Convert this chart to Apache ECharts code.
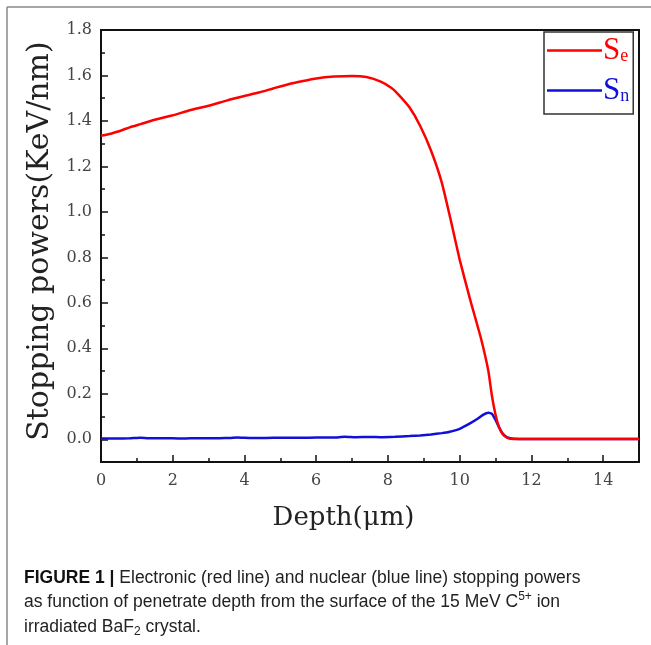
<!DOCTYPE html>
<html>
<head>
<meta charset="utf-8">
<script src="https://cdn.jsdelivr.net/npm/echarts@6/dist/echarts.min.js"></script>
<style>
  html, body { margin: 0; padding: 0; background: #fff; }
  #chart { width: 651px; height: 645px; }
</style>
</head>
<body>
<div id="chart"></div>
<script>
// electronic stopping power (red)
var depthSe = [0, 0.3, 0.6, 0.8, 1.1, 1.5, 2.0, 2.5, 3.0, 3.4, 3.6, 4.0, 4.4, 4.8, 5.3, 5.6, 6.0, 6.5, 7.0, 7.4, 7.8, 8.1, 8.3, 8.6, 8.9, 9.2, 9.5, 9.75, 10.0, 10.3, 10.6, 10.8, 10.9, 11.0, 11.1, 11.2, 11.33, 11.5, 12, 13, 14, 15];
var valSe = [1.335, 1.345, 1.36, 1.372, 1.386, 1.405, 1.425, 1.448, 1.467, 1.485, 1.494, 1.51, 1.525, 1.543, 1.565, 1.575, 1.587, 1.595, 1.598, 1.593, 1.573, 1.545, 1.515, 1.46, 1.378, 1.27, 1.13, 0.965, 0.79, 0.61, 0.44, 0.3, 0.19, 0.108, 0.052, 0.022, 0.006, 0.001, 0.001, 0.001, 0.001, 0.001];
// nuclear stopping power (blue)
var depthSn = [0, 0.4, 0.8, 1.1, 1.3, 1.6, 2.0, 2.3, 2.7, 3.0, 3.3, 3.6, 3.8, 4.2, 4.6, 5.0, 5.4, 5.8, 6.2, 6.6, 6.8, 7.1, 7.5, 7.8, 8.2, 8.6, 8.9, 9.2, 9.5, 9.7, 10.0, 10.3, 10.5, 10.65, 10.8, 10.9, 11.0, 11.1, 11.2, 11.33, 11.5, 12, 13, 14, 15];
var valSn = [0.003, 0.003, 0.004, 0.007, 0.005, 0.004, 0.004, 0.003, 0.005, 0.004, 0.005, 0.006, 0.008, 0.006, 0.006, 0.007, 0.007, 0.007, 0.008, 0.008, 0.011, 0.009, 0.010, 0.009, 0.011, 0.014, 0.017, 0.021, 0.027, 0.032, 0.046, 0.071, 0.090, 0.107, 0.117, 0.112, 0.085, 0.052, 0.025, 0.008, 0.002, 0.001, 0.001, 0.001, 0.001];

var xMajor = [0, 2, 4, 6, 8, 10, 12, 14];
var xMinor = [1, 3, 5, 7, 9, 11, 13];
var yMajor = [0, 0.2, 0.4, 0.6, 0.8, 1.0, 1.2, 1.4, 1.6, 1.8];
var yMinor = [0.1, 0.3, 0.5, 0.7, 0.9, 1.1, 1.3, 1.5, 1.7];

function pairs(xs, ys) {
  return xs.map(function (x, i) { return [x, ys[i]]; });
}

var serif = 'DejaVu Serif';
var tickStyle = { color: '#111', width: 1.5 };
var myChart = echarts.init(document.getElementById('chart'));

var option = {
  animation: false,
  grid: {
    left: 101, top: 30, right: 12, bottom: 183,
    show: true, borderColor: '#111', borderWidth: 2, backgroundColor: 'transparent'
  },
  legend: {
    orient: 'vertical',
    left: 544, top: 32,
    padding: [3, 4, 8, 3],
    itemGap: 9,
    itemWidth: 55,
    itemHeight: 2.5,
    icon: 'rect',
    borderColor: '#333',
    borderWidth: 1.5,
    data: ['Se', 'Sn'],
    formatter: function (name) {
      return name === 'Se' ? '{sr|S}{er|e}' : '{sb|S}{nb|n}';
    },
    textStyle: {
      padding: [0, 0, 0, -4],
      rich: {
        sr: { fontFamily: 'Liberation Serif', fontSize: 31, color: '#ff0000', lineHeight: 30 },
        er: { fontFamily: 'Liberation Serif', fontSize: 18, color: '#ff0000', lineHeight: 12, verticalAlign: 'bottom' },
        sb: { fontFamily: 'Liberation Serif', fontSize: 31, color: '#1010d8', lineHeight: 30 },
        nb: { fontFamily: 'Liberation Serif', fontSize: 18, color: '#1010d8', lineHeight: 12, verticalAlign: 'bottom' }
      }
    }
  },
  xAxis: [{
    type: 'value', min: 0, max: 15,
    name: 'Depth(μm)',
    nameLocation: 'middle',
    nameGap: 43,
    nameTextStyle: { fontFamily: serif, fontSize: 26, color: '#222', padding: [0, 53, 0, 0] },
    axisLine: { onZero: false, lineStyle: { color: '#111', width: 2 } },
    axisTick: { inside: false, length: -7, lineStyle: tickStyle, customValues: xMajor },
    axisLabel: { customValues: xMajor, margin: 11, fontFamily: serif, fontSize: 16, color: '#444' },
    splitLine: { show: false }
  }, {
    type: 'value', min: 0, max: 15, position: 'bottom',
    axisLine: { show: false, onZero: false },
    axisTick: { inside: false, length: -4, lineStyle: tickStyle, customValues: xMinor },
    axisLabel: { show: false },
    splitLine: { show: false }
  }],
  yAxis: [{
    type: 'value', min: -0.1, max: 1.8,
    name: 'Stopping powers(KeV/nm)',
    nameLocation: 'middle',
    nameGap: 41,
    nameTextStyle: { fontFamily: serif, fontSize: 30, color: '#222', padding: [0, 0, 0, 10] },
    axisLine: { onZero: false, lineStyle: { color: '#111', width: 2 } },
    axisTick: { inside: false, length: -7, lineStyle: tickStyle, customValues: yMajor },
    axisLabel: {
      customValues: yMajor, margin: 9, fontFamily: serif, fontSize: 16, color: '#444',
      formatter: function (v) { return v.toFixed(1); }
    },
    splitLine: { show: false }
  }, {
    type: 'value', min: -0.1, max: 1.8, position: 'left',
    axisLine: { show: false, onZero: false },
    axisTick: { inside: false, length: -4, lineStyle: tickStyle, customValues: yMinor },
    axisLabel: { show: false },
    splitLine: { show: false }
  }],
  series: [{
    name: 'Sn', type: 'line', symbol: 'none', smooth: 0.15,
    data: pairs(depthSn, valSn),
    lineStyle: { color: '#1010d8', width: 2.5 },
    itemStyle: { color: '#1010d8' },
    z: 2
  }, {
    name: 'Se', type: 'line', symbol: 'none', smooth: 0.15,
    data: pairs(depthSe, valSe),
    lineStyle: { color: '#ff0000', width: 2.5 },
    itemStyle: { color: '#ff0000' },
    z: 3
  }],
  graphic: [
    { type: 'line', shape: { x1: 7, y1: 7, x2: 651, y2: 7 }, style: { stroke: '#888', lineWidth: 1.5 } },
    { type: 'line', shape: { x1: 7, y1: 7, x2: 7, y2: 645 }, style: { stroke: '#888', lineWidth: 1.5 } },
    {
      type: 'text', left: 24, top: 569,
      style: {
        text: '{b|FIGURE 1 |} Electronic (red line) and nuclear (blue line) stopping powers',
        font: '17.5px "Liberation Sans"', fill: '#222',
        rich: { b: { fontFamily: 'Liberation Sans', fontSize: 17.5, fontWeight: 'bold', fill: '#111' } }
      }
    },
    {
      type: 'text', left: 24, top: 591,
      style: {
        text: 'as function of penetrate depth from the surface of the 15 MeV C{sup|5+} ion',
        font: '17.5px "Liberation Sans"', fill: '#222', lineHeight: 22,
        rich: { sup: { fontFamily: 'Liberation Sans', fontSize: 12, lineHeight: 13, verticalAlign: 'top', fill: '#222' } }
      }
    },
    {
      type: 'text', left: 24, top: 616,
      style: {
        text: 'irradiated BaF{sub|2} crystal.',
        font: '17.5px "Liberation Sans"', fill: '#222', lineHeight: 22,
        rich: { sub: { fontFamily: 'Liberation Sans', fontSize: 12, lineHeight: 13, verticalAlign: 'bottom', fill: '#222' } }
      }
    }
  ]
};
myChart.setOption(option);
</script>
</body>
</html>
